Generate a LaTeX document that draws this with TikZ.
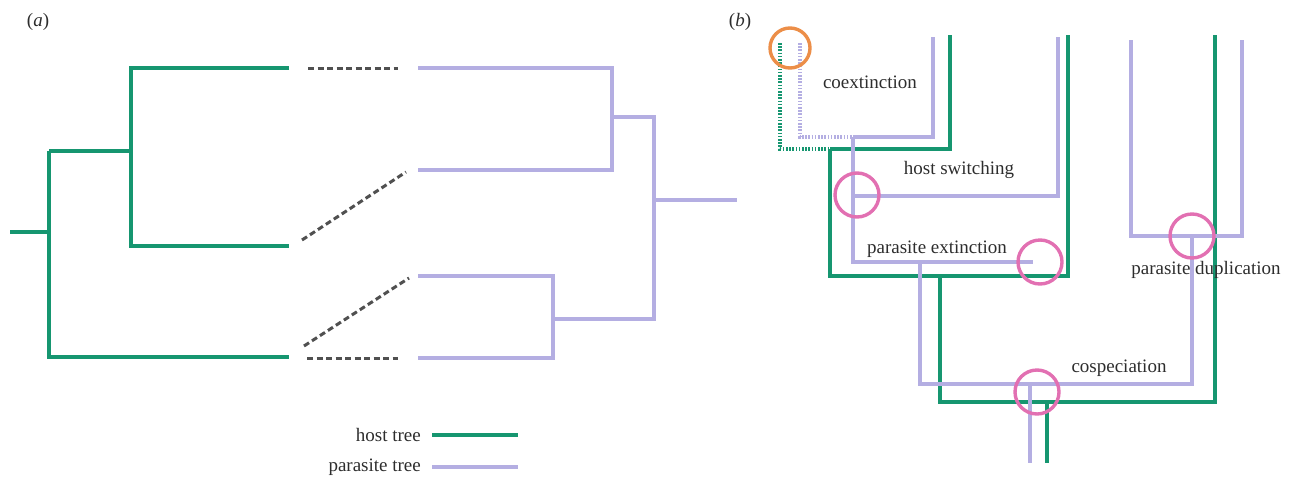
\documentclass[tikz,border=0pt]{standalone}
\usepackage{fontspec}
\setmainfont{Liberation Serif}
\definecolor{hostc}{RGB}{22,150,112}
\definecolor{parc}{RGB}{180,174,226}
\definecolor{pinkc}{RGB}{226,112,178}
\definecolor{orangec}{RGB}{236,142,72}
\definecolor{dashc}{RGB}{80,80,80}
\definecolor{txtc}{RGB}{45,45,45}
\tikzset{
  host/.style={draw=hostc, line width=4.6pt},
  para/.style={draw=parc, line width=3.6pt},
  hostdot/.style={draw=hostc, line width=4.6pt, dash pattern=on 1.6pt off 1.6pt},
  paradot/.style={draw=parc, line width=3.6pt, dash pattern=on 1.6pt off 1.6pt},
  assoc/.style={draw=dashc, line width=3pt, dash pattern=on 6pt off 3.5pt},
  evt/.style={circle, draw=pinkc, line width=3.4pt, minimum size=44pt, inner sep=0pt},
  evto/.style={circle, draw=orangec, line width=3.4pt, minimum size=40pt, inner sep=0pt},
  lbl/.style={text=txtc, inner sep=0pt, font=\fontsize{19}{22}\selectfont},
}
\begin{document}
\begin{tikzpicture}[x=1pt, y=-1pt]
\useasboundingbox (0,0) rectangle (1292,477);

% ---------------- panel (a) ----------------
\node[lbl] (la) at (38,22) {(\textit{a})};

% host tree coordinates
\coordinate (hr) at (10,232);
\coordinate (hn1) at (49,232);
\coordinate (hn1t) at (49,151);
\coordinate (hn1b) at (49,357);
\coordinate (hn2) at (131,151);
\coordinate (hn2t) at (131,68);
\coordinate (hn2b) at (131,246);
\coordinate (hA) at (289,68);
\coordinate (hB) at (289,246);
\coordinate (hC) at (289,357);
\draw[host] (hr) -- (hn1);
\draw[host] (hn1t) -- (hn1b) -- (hC);
\draw[host] (hn1t) -- (hn2);
\draw[host] (hA) -- (hn2t) -- (hn2b) -- (hB);

% parasite tree coordinates
\coordinate (pA) at (418,68);
\coordinate (pB) at (418,170);
\coordinate (pC) at (418,276);
\coordinate (pD) at (418,358);
\coordinate (pn1t) at (612,68);
\coordinate (pn1b) at (612,170);
\coordinate (pn1) at (612,117);
\coordinate (pn2t) at (654,117);
\coordinate (pn2b) at (654,319);
\coordinate (pn2) at (654,200);
\coordinate (pr) at (737,200);
\coordinate (pn3t) at (553,276);
\coordinate (pn3b) at (553,358);
\coordinate (pn3) at (553,319);
\draw[para] (pA) -- (pn1t) -- (pn1b) -- (pB);
\draw[para] (pn1) -- (pn2t) -- (pn2b) -- (pn3);
\draw[para] (pn2) -- (pr);
\draw[para] (pC) -- (pn3t) -- (pn3b) -- (pD);

% associations
\coordinate (dA1) at (308,68);  \coordinate (dA2) at (398,68);
\coordinate (dB1) at (302,240); \coordinate (dB2) at (406,172);
\coordinate (dC1) at (304,346); \coordinate (dC2) at (409,278);
\coordinate (dD1) at (307,358); \coordinate (dD2) at (398,358);
\draw[assoc] (dA1) -- (dA2);
\draw[assoc] (dB1) -- (dB2);
\draw[assoc] (dC1) -- (dC2);
\draw[assoc] (dD1) -- (dD2);

% legend
\node[lbl, anchor=east] (lgh) at (421,435) {host tree};
\node[lbl, anchor=east] (lgp) at (421,467) {parasite tree};
\coordinate (lgh1) at (432,435); \coordinate (lgh2) at (518,435);
\coordinate (lgp1) at (432,467); \coordinate (lgp2) at (518,467);
\draw[host] (lgh1) -- (lgh2);
\draw[para] (lgp1) -- (lgp2);

% ---------------- panel (b) ----------------
\node[lbl] (lb) at (740,22) {(\textit{b})};

% host
\coordinate (Hd1) at (780,43);
\coordinate (Hd2) at (780,149);
\coordinate (Hs) at (830,149);
\coordinate (Hs1) at (950,149);
\coordinate (Hs1t) at (950,35);
\coordinate (Hs2) at (830,276);
\coordinate (Hs3) at (1068,276);
\coordinate (Hs3t) at (1068,35);
\coordinate (Hc) at (940,276);
\coordinate (Hc2) at (940,402);
\coordinate (Hc3) at (1215,402);
\coordinate (Hc3t) at (1215,35);
\coordinate (Hroot) at (1047,402);
\coordinate (Hrootb) at (1047,463);
\draw[hostdot] (Hd1) -- (Hd2) -- (Hs);
\draw[host] (Hs) -- (Hs1) -- (Hs1t);
\draw[host] (Hs) -- (Hs2) -- (Hs3) -- (Hs3t);
\draw[host] (Hc) -- (Hc2) -- (Hc3) -- (Hc3t);
\draw[host] (Hroot) -- (Hrootb);

% parasite
\coordinate (Pd1) at (800,43);
\coordinate (Pd2) at (800,137);
\coordinate (Ps) at (853,137);
\coordinate (Ps1) at (933,137);
\coordinate (Ps1t) at (933,37);
\coordinate (Ph) at (853,196);
\coordinate (Ph1) at (1058,196);
\coordinate (Ph1t) at (1058,37);
\coordinate (Pe) at (853,262);
\coordinate (Pe1) at (1033,262);
\coordinate (Pc) at (920,262);
\coordinate (Pc2) at (920,384);
\coordinate (Pc3) at (1192,384);
\coordinate (Pdup) at (1192,236);
\coordinate (Pu1) at (1131,236);
\coordinate (Pu1t) at (1131,40);
\coordinate (Pu2) at (1242,236);
\coordinate (Pu2t) at (1242,40);
\coordinate (Proot) at (1030,384);
\coordinate (Prootb) at (1030,463);
\draw[paradot] (Pd1) -- (Pd2) -- (Ps);
\draw[para] (Ps) -- (Ps1) -- (Ps1t);
\draw[para] (Ps) -- (Pe) -- (Pe1);
\draw[para] (Ph) -- (Ph1) -- (Ph1t);
\draw[para] (Pc) -- (Pc2) -- (Pc3) -- (Pdup);
\draw[para] (Pu1t) -- (Pu1) -- (Pu2) -- (Pu2t);
\draw[para] (Proot) -- (Prootb);

% events
\node[evto] (ccoext) at (790,48) {};
\node[evt] (cswitch) at (857,195) {};
\node[evt] (cext) at (1040,262) {};
\node[evt] (ccosp) at (1037,392) {};
\node[evt] (cdup) at (1192,236) {};

% labels
\node[lbl] (tcoext) at (870,82) {coextinction};
\node[lbl] (tswitch) at (959,170) {host switching};
\node[lbl] (text) at (937,249) {parasite extinction};
\node[lbl] (tdup) at (1206,270) {parasite duplication};
\node[lbl] (tcosp) at (1119,368) {cospeciation};
\end{tikzpicture}
\end{document}
